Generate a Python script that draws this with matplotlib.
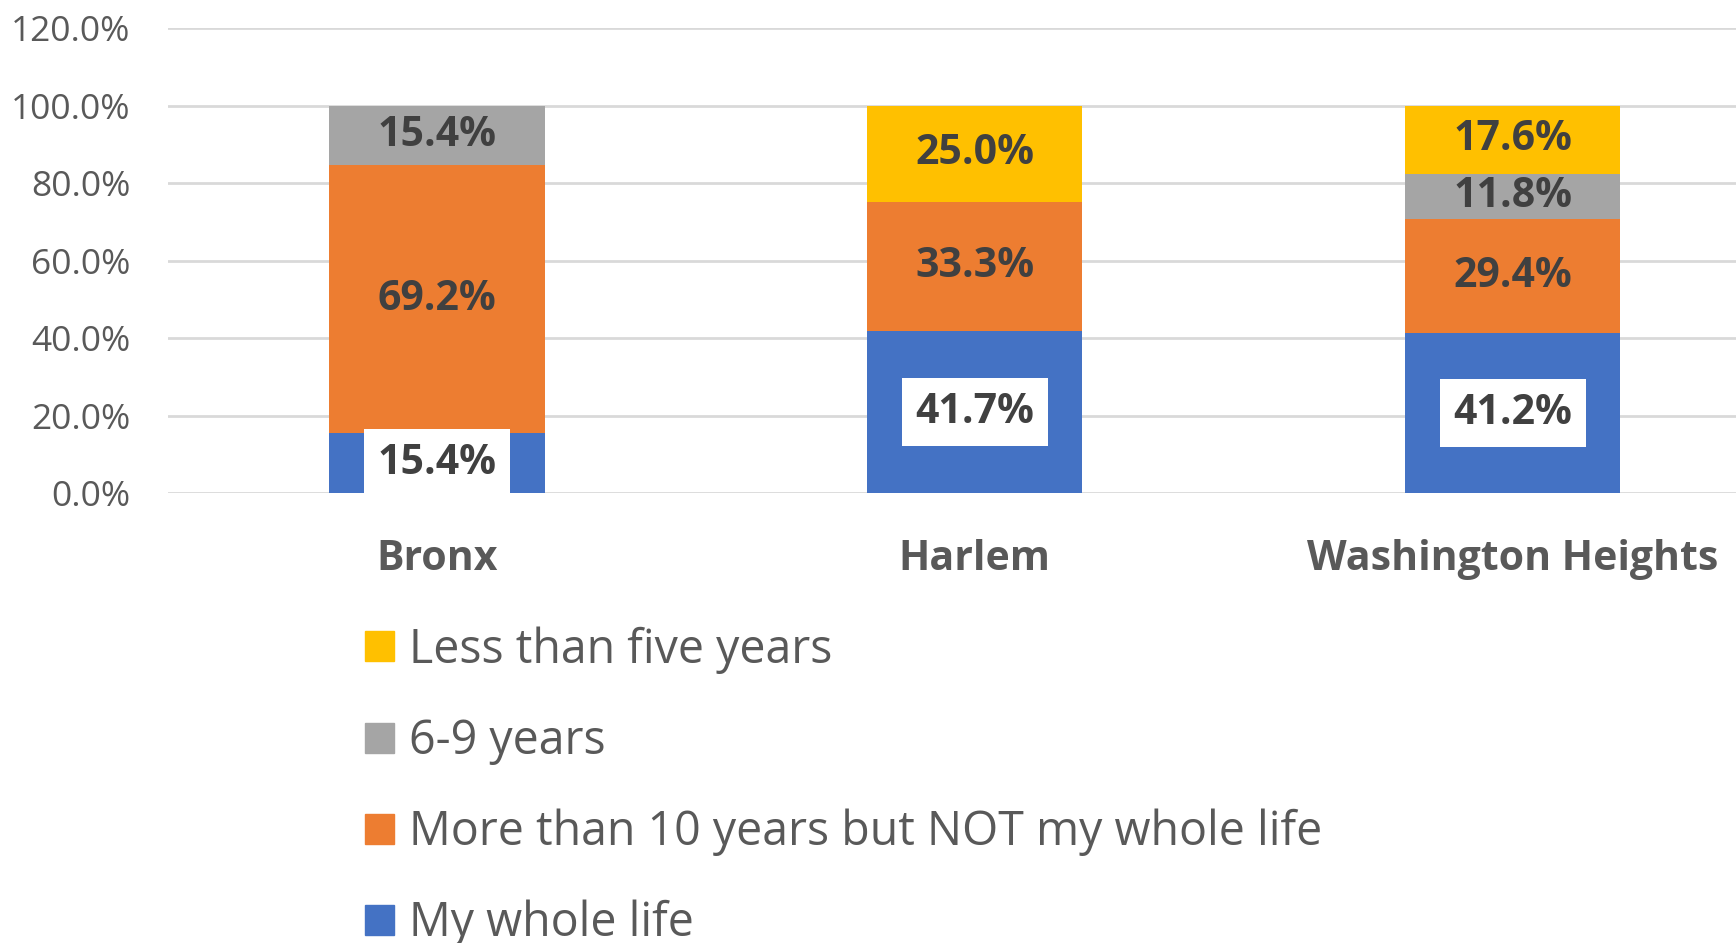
import numpy as np
import matplotlib.pyplot as plt
import matplotlib.ticker as mtick
from matplotlib.patches import Patch

plt.rcParams['font.family'] = ['Open Sans', 'DejaVu Sans']

# DATA (percent)
areas = ["Bronx", "Harlem", "Washington Heights"]
whole_life = [15.4, 41.7, 41.2]
more_than_10 = [69.2, 33.3, 29.4]
six_to_nine = [15.4, 0.0, 11.8]
less_than_five = [0.0, 25.0, 17.6]

series_names = ["My whole life", "More than 10 years but NOT my whole life",
                "6-9 years", "Less than five years"]
series_colors = ["#4472C4", "#ED7D31", "#A5A5A5", "#FFC000"]

W, H = 1736, 943
fig = plt.figure(figsize=(W / 100, H / 100), dpi=100)
ax = fig.add_axes([168 / W, 1 - 493 / H, 1 - 168 / W, (493 - 28) / H])

x = np.arange(len(areas))
bottom = np.zeros(len(areas))
all_series = [whole_life, more_than_10, six_to_nine, less_than_five]
for i, (vals, name, col) in enumerate(zip(all_series, series_names, series_colors)):
    vals = np.array(vals)
    ax.bar(x, vals, 0.4, bottom=bottom, color=col, label=name, zorder=2)
    for xi, v, b in zip(x, vals, bottom):
        if v <= 0:
            continue
        kw = {}
        if i == 0:
            kw['bbox'] = dict(boxstyle='square,pad=0.33', fc='white', ec='none')
        ax.text(xi, b + v / 2, f"{v:.1f}%", ha='center', va='center',
                fontsize=29.5, fontweight='bold', color='#404040', zorder=3, **kw)
    bottom += vals

ax.set_ylim(0, 120)
ax.set_xlim(-0.5, 2.415)
ax.set_yticks(np.arange(0, 121, 20))
ax.yaxis.set_major_formatter(mtick.FormatStrFormatter('%.1f%%'))
ax.yaxis.grid(True, color='#D9D9D9', linewidth=2, zorder=0)
ax.set_axisbelow(True)
for s in ax.spines.values():
    s.set_visible(False)
ax.set_xticks(x)
ax.set_xticklabels(areas, fontsize=29.5, fontweight='bold', color='#595959')
ax.tick_params(axis='x', length=0, pad=33)
ax.tick_params(axis='y', length=0, pad=27, labelsize=25.5, labelcolor='#595959')

# legend runs off the bottom edge, as in the original
handles = [Patch(color=c) for c in series_colors][::-1]
labels = series_names[::-1]
fig.legend(handles, labels, loc='upper left', bbox_to_anchor=(342 / W, 1 - 603 / H),
           frameon=False, fontsize=33.5, labelcolor='#595959', borderpad=0,
           handlelength=0.62, handleheight=0.62, handletextpad=0.32, labelspacing=0.94)

plt.savefig('out.png', dpi=100)
